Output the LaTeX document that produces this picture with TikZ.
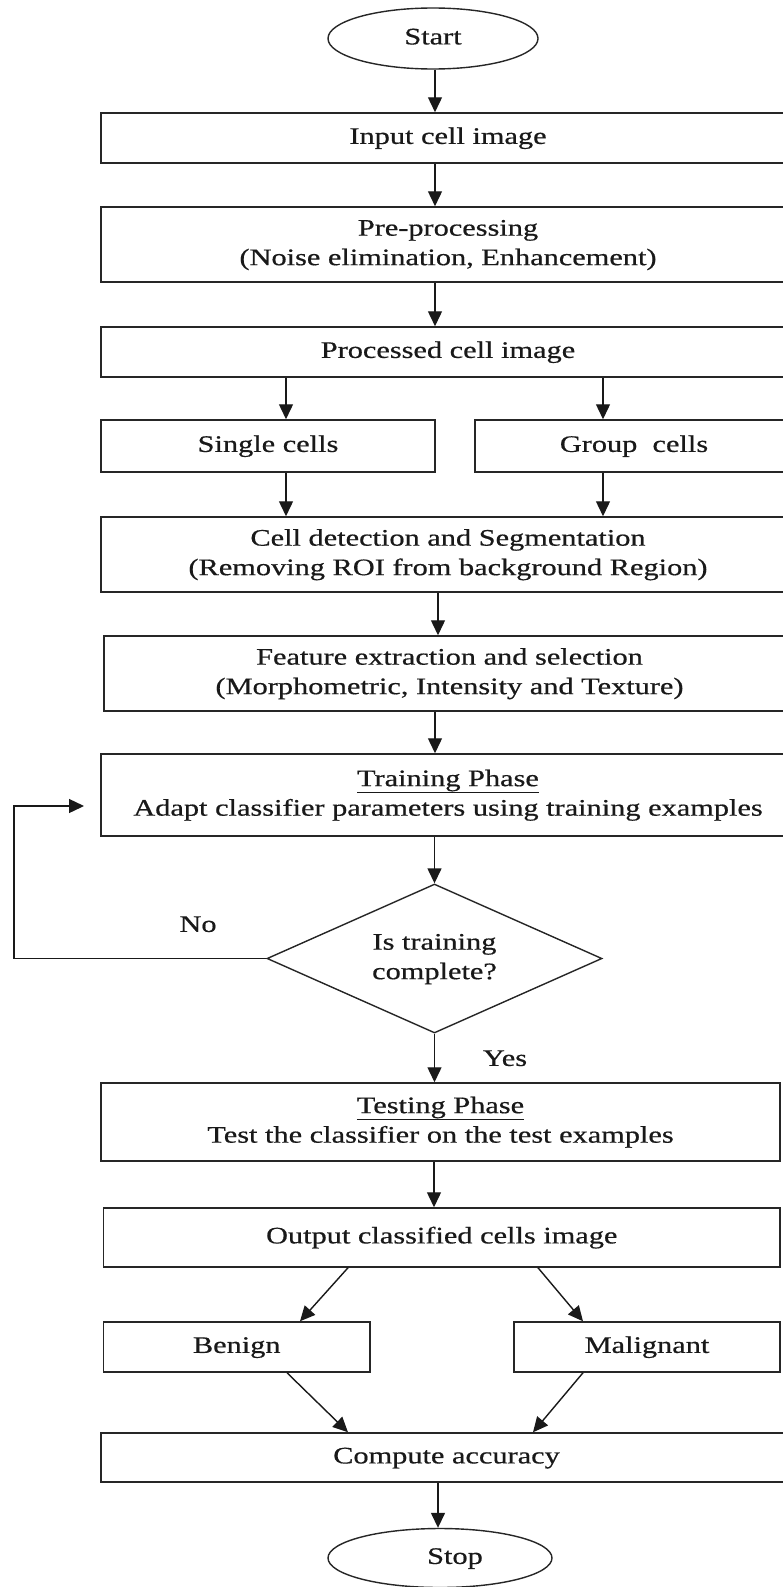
\documentclass[tikz,border=0pt]{standalone}
\usepackage{fontspec}
\usepackage{graphicx}
\setmainfont{Liberation Serif}[FakeBold=0.5]
\usetikzlibrary{shapes.geometric,arrows.meta}
\newcommand{\wt}[1]{\scalebox{1.28}[1]{\begin{tabular}{@{}c@{}}#1\end{tabular}}}
\begin{document}
\begin{tikzpicture}[x=1pt,y=-1pt,
  every node/.style={font=\fontsize{23.7}{29.5}\selectfont, text=black!90, inner sep=0pt},
  box/.style={draw=black!85, line width=1.5pt, rectangle},
  term/.style={draw=black!85, line width=1.4pt, ellipse},
  dec/.style={draw=black!85, line width=1.4pt, diamond},
  arr/.style={draw=black!90, line width=1.4pt, -{Triangle[length=15pt,width=14pt]}},
  lnk/.style={draw=black!90, line width=1.4pt}]
\useasboundingbox (0,0) rectangle (783,1587);
\clip (0,0) rectangle (783,1587);
\fill[white] (0,0) rectangle (783,1587);

% terminals
\node[term, minimum width=210pt, minimum height=61pt] (start) at (433,38.5) {\wt{Start}};
\node[term, minimum width=224pt, minimum height=59pt] (stop) at (440,1558) {\hspace*{30pt}\wt{Stop}};

% boxes (some run past the right edge of the picture)
\node[box, minimum width=694pt, minimum height=50pt] (input) at (448,138) {\wt{Input cell image}};
\node[box, minimum width=694pt, minimum height=75pt] (pre) at (448,244.5) {\wt{Pre-processing\\(Noise elimination, Enhancement)}};
\node[box, minimum width=694pt, minimum height=50pt] (proc) at (448,352) {\wt{Processed cell image}};
\node[box, minimum width=334pt, minimum height=52pt] (single) at (268,446) {\wt{Single cells}};
\node[box, minimum width=318pt, minimum height=52pt] (group) at (634,446) {\wt{Group~~cells}};
\node[box, minimum width=694pt, minimum height=75pt] (seg) at (448,554.5) {\wt{Cell detection and Segmentation\\(Removing ROI from background Region)}};
\node[box, minimum width=691pt, minimum height=75pt] (feat) at (449.5,673.5) {\wt{Feature extraction and selection\\(Morphometric, Intensity and Texture)}};
\node[box, minimum width=694pt, minimum height=82pt] (train) at (448,795) {\wt{\underline{Training Phase}\\Adapt classifier parameters using training examples}};
\node[dec, minimum width=335pt, minimum height=149pt, aspect=2.25] (dec) at (434.5,958.5) {\wt{Is training\\complete?}};
\node[box, minimum width=679pt, minimum height=78pt] (test) at (440.5,1122) {\wt{\underline{Testing Phase}\\Test the classifier on the test examples}};
\node[box, minimum width=676.5pt, minimum height=59pt] (out) at (441.75,1237.5) {\wt{Output classified cells image}};
\node[box, minimum width=266.5pt, minimum height=50pt] (benign) at (236.75,1347) {\wt{Benign}};
\node[box, minimum width=266pt, minimum height=50pt] (malig) at (647,1347) {\wt{Malignant}};
\node[box, minimum width=691pt, minimum height=49pt] (acc) at (446.5,1457.5) {\wt{Compute accuracy}};

% labels
\node (no) at (198,926) {\wt{No}};
\node (yes) at (505,1060) {\wt{Yes}};

% connectors
\draw[arr] (start.south -| 435,0) -- (input.north -| 435,0);
\draw[arr] (input.south -| 435,0) -- (pre.north -| 435,0);
\draw[arr] (pre.south -| 435,0) -- (proc.north -| 435,0);
\draw[arr] (proc.south -| 286,0) -- (single.north -| 286,0);
\draw[arr] (proc.south -| 603,0) -- (group.north -| 603,0);
\draw[arr] (single.south -| 286,0) -- (seg.north -| 286,0);
\draw[arr] (group.south -| 603,0) -- (seg.north -| 603,0);
\draw[arr] (seg.south -| 438,0) -- (feat.north -| 438,0);
\draw[arr] (feat.south -| 435,0) -- (train.north -| 435,0);
\draw[arr] (train.south -| dec.north) -- (dec.north);
\draw[arr] (dec.south) -- (test.north -| dec.south);
\draw[arr] (test.south -| 434,0) -- (out.north -| 434,0);
\draw[arr] (out.south -| 348,0) -- (benign.north -| 300,0);
\draw[arr] (out.south -| 538,0) -- (malig.north -| 583,0);
\draw[arr] (benign.south -| 287,0) -- (acc.north -| 348,0);
\draw[arr] (malig.south -| 583,0) -- (acc.north -| 533,0);
\draw[arr] (acc.south -| 438,0) -- (stop.north -| 438,0);
\coordinate (fb) at (84,806);
\draw[arr] (dec.west) -- (14,958.5) -- (14,806) -- (fb);
\end{tikzpicture}
\end{document}
